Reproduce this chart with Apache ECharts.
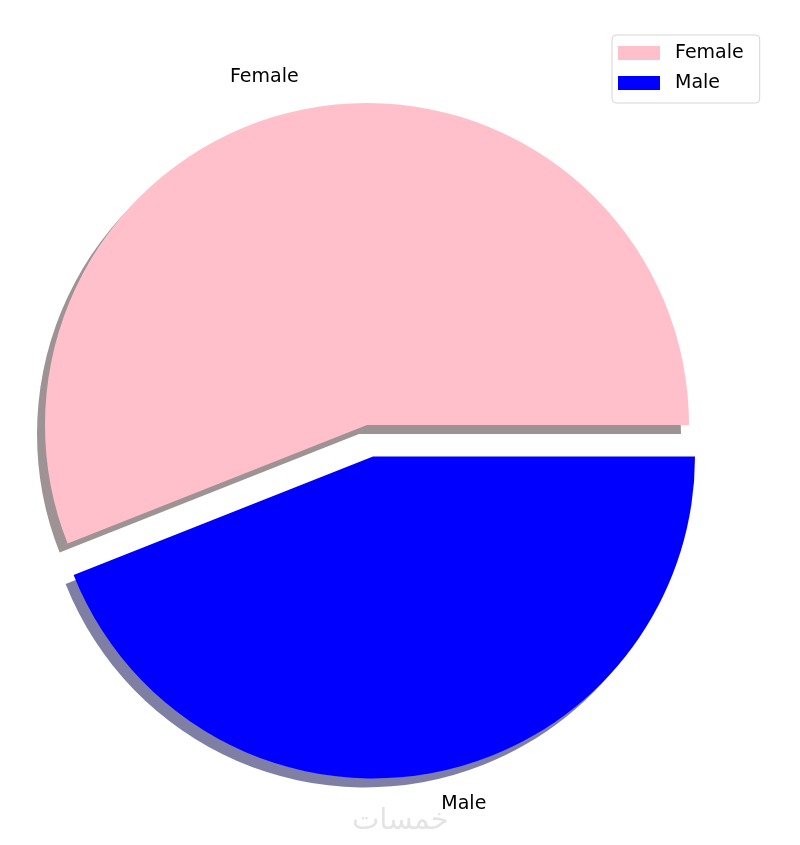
<!DOCTYPE html>
<html>
<head>
<meta charset="utf-8">
<script src="https://cdn.jsdelivr.net/npm/echarts@6/dist/echarts.min.js"></script>
<style>
  html, body { margin: 0; padding: 0; background: #fff; }
  #chart { width: 800px; height: 845px; }
</style>
</head>
<body>
<div id="chart"></div>
<script>
// data
const categories = ['Female', 'Male'];
const values = [56, 44];
const colors = ['#ffc0cb', '#0000ff'];
const shadowColors = ['rgba(76,58,61,0.55)', 'rgba(0,0,76,0.5)'];
const exploded = [false, true];

const myChart = echarts.init(document.getElementById('chart'));

const font = 'DejaVu Sans';

const option = {
  animation: false,
  legend: {
    orient: 'vertical',
    left: 612,
    top: 35,
    data: categories,
    icon: 'rect',
    itemWidth: 42,
    itemHeight: 14,
    itemGap: 10,
    padding: [8, 16, 10, 6],
    backgroundColor: '#fff',
    borderColor: '#d6d6d6',
    borderWidth: 1,
    borderRadius: 4,
    textStyle: {
      fontFamily: font,
      fontSize: 19,
      lineHeight: 20,
      color: '#000',
      padding: [0, 0, 0, 10]
    }
  },
  graphic: [{
    type: 'text',
    left: 352,
    top: 807,
    style: {
      text: 'خمسات',
      fontFamily: 'DejaVu Sans',
      fontSize: 29,
      fill: '#e4e4e4'
    }
  }],
  series: [{
    type: 'pie',
    center: [367, 425],
    radius: 322,
    startAngle: 0,
    clockwise: false,
    avoidLabelOverlap: false,
    selectedMode: 'multiple',
    selectedOffset: 32,
    emphasis: { disabled: true },
    label: {
      show: true,
      position: 'outside',
      formatter: '{b}',
      fontFamily: font,
      fontSize: 19,
      color: '#000',
      distanceToLabelLine: 2
    },
    labelLine: { show: false, length: 32, length2: 0 },
    data: categories.map((name, i) => ({
      name: name,
      value: values[i],
      selected: exploded[i],
      itemStyle: {
        color: colors[i],
        shadowColor: shadowColors[i],
        shadowBlur: 0,
        shadowOffsetX: -8,
        shadowOffsetY: 9
      },
      select: {
        itemStyle: {
          color: colors[i],
          shadowColor: shadowColors[i],
          shadowBlur: 0,
          shadowOffsetX: -8,
          shadowOffsetY: 9,
          borderWidth: 0
        }
      }
    }))
  }]
};

myChart.setOption(option);
window.addEventListener('resize', () => myChart.resize());
</script>
</body>
</html>
